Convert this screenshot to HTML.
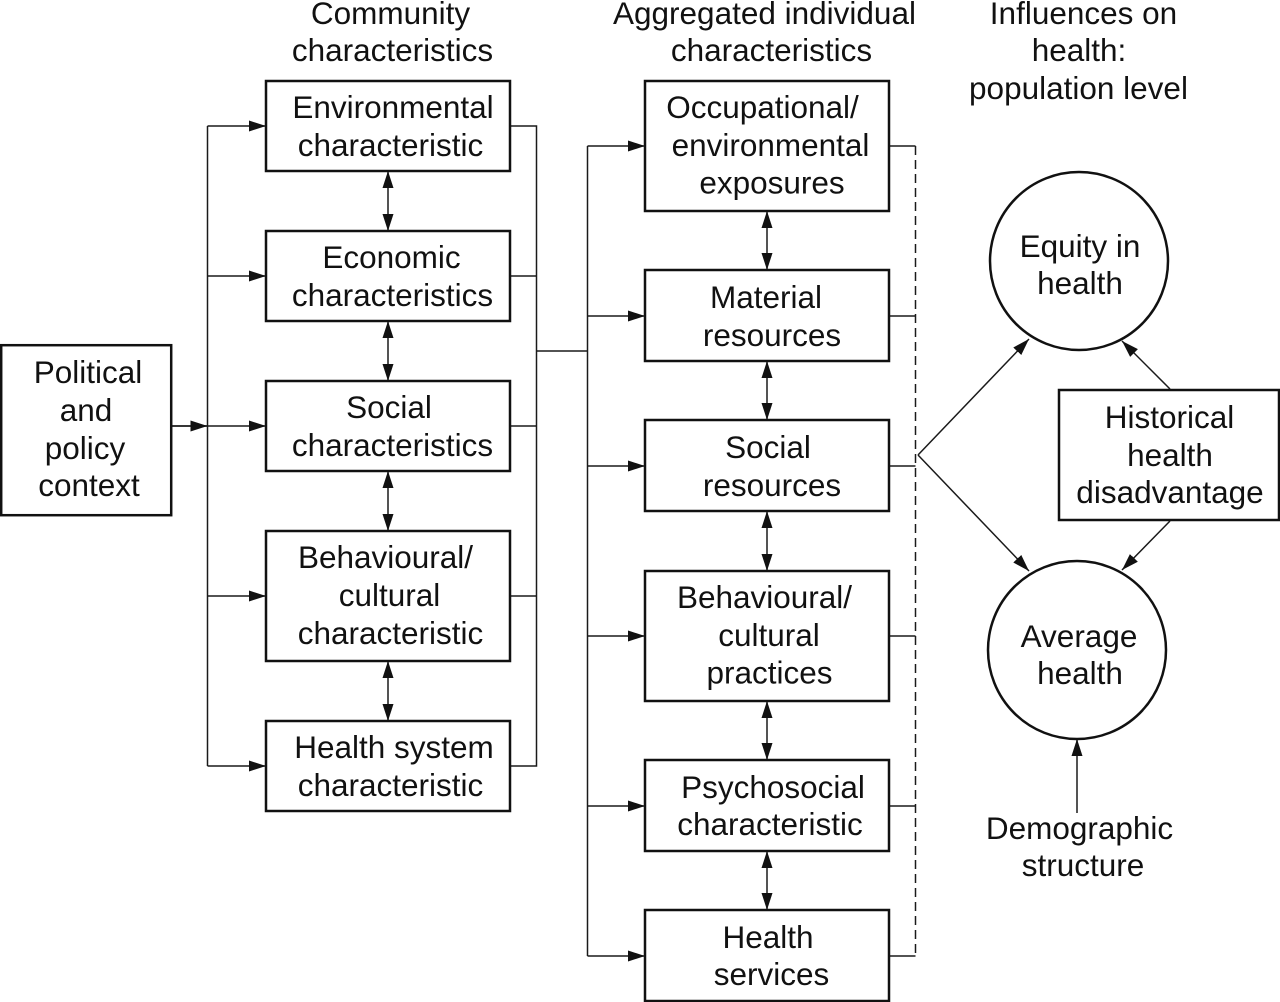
<!DOCTYPE html>
<html><head><meta charset="utf-8"><style>
html,body{margin:0;padding:0;background:#fff}
svg{display:block}
text{font-family:"Liberation Sans",Arial,sans-serif;font-size:31.5px;fill:#111;text-anchor:middle}
.b{fill:#fff;stroke:#111;stroke-width:2.5}
.l{fill:none;stroke:#1a1a1a;stroke-width:1.5}
.h{fill:#111;stroke:none}
</style></head><body>
<svg width="1280" height="1002" viewBox="0 0 1280 1002" xmlns="http://www.w3.org/2000/svg">
<defs>
<marker id="a" markerUnits="userSpaceOnUse" markerWidth="18" markerHeight="12" refX="17" refY="6" orient="auto"><path class="h" d="M0 0.500L17 6L0 11.500Z"/></marker>
<marker id="s" markerUnits="userSpaceOnUse" markerWidth="18" markerHeight="12" refX="17" refY="6" orient="auto-start-reverse"><path class="h" d="M0 0.500L17 6L0 11.500Z"/></marker>
</defs>

<!-- left trunk -->
<path class="l" d="M207.500 126V766M172 426H207.500"/>
<path class="l" marker-end="url(#a)" d="M172 426H207.500"/>
<path class="l" marker-end="url(#a)" d="M207.500 126H266"/>
<path class="l" marker-end="url(#a)" d="M207.500 276H266"/>
<path class="l" marker-end="url(#a)" d="M207.500 426H266"/>
<path class="l" marker-end="url(#a)" d="M207.500 596H266"/>
<path class="l" marker-end="url(#a)" d="M207.500 766H266"/>

<!-- community outputs -->
<path class="l" d="M510 126H536.500V766H510M510 276H536.500M510 426H536.500M510 596H536.500M536.500 351H587.500"/>

<!-- middle trunk -->
<path class="l" d="M587.500 146V956"/>
<path class="l" marker-end="url(#a)" d="M587.500 146H645"/>
<path class="l" marker-end="url(#a)" d="M587.500 316H645"/>
<path class="l" marker-end="url(#a)" d="M587.500 466H645"/>
<path class="l" marker-end="url(#a)" d="M587.500 636H645"/>
<path class="l" marker-end="url(#a)" d="M587.500 806H645"/>
<path class="l" marker-end="url(#a)" d="M587.500 956H645"/>

<!-- dashed collector -->
<path class="l" stroke-dasharray="9 5" d="M915.500 146V956"/>
<path class="l" d="M889 146H915.500M889 316H915.500M889 466H915.500M889 636H915.500M889 806H915.500M889 956H915.500"/>

<!-- vertical double arrows -->
<path class="l" marker-start="url(#s)" marker-end="url(#s)" d="M388 171V231"/>
<path class="l" marker-start="url(#s)" marker-end="url(#s)" d="M388 321V381"/>
<path class="l" marker-start="url(#s)" marker-end="url(#s)" d="M388 471V531"/>
<path class="l" marker-start="url(#s)" marker-end="url(#s)" d="M388 661V721"/>
<path class="l" marker-start="url(#s)" marker-end="url(#s)" d="M767 211V270"/>
<path class="l" marker-start="url(#s)" marker-end="url(#s)" d="M767 361V420"/>
<path class="l" marker-start="url(#s)" marker-end="url(#s)" d="M767 511V571"/>
<path class="l" marker-start="url(#s)" marker-end="url(#s)" d="M767 701V760"/>
<path class="l" marker-start="url(#s)" marker-end="url(#s)" d="M767 851V910"/>

<!-- outcome arrows -->
<path class="l" marker-end="url(#a)" d="M918 455L1029 339"/>
<path class="l" marker-end="url(#a)" d="M918 455L1029 571"/>
<path class="l" marker-end="url(#a)" d="M1170 389L1122 341"/>
<path class="l" marker-end="url(#a)" d="M1170 521L1122 570"/>
<path class="l" marker-end="url(#a)" d="M1077 813V739"/>

<!-- boxes -->
<rect class="b" x="1.200" y="345.200" width="170" height="170"/>
<rect class="b" x="266" y="81" width="244" height="90"/>
<rect class="b" x="266" y="231" width="244" height="90"/>
<rect class="b" x="266" y="381" width="244" height="90"/>
<rect class="b" x="266" y="531" width="244" height="130"/>
<rect class="b" x="266" y="721" width="244" height="90"/>
<rect class="b" x="645" y="81" width="244" height="130"/>
<rect class="b" x="645" y="270" width="244" height="91"/>
<rect class="b" x="645" y="420" width="244" height="91"/>
<rect class="b" x="645" y="571" width="244" height="130"/>
<rect class="b" x="645" y="760" width="244" height="91"/>
<rect class="b" x="645" y="910" width="244" height="91"/>
<rect class="b" x="1059" y="390" width="220" height="130"/>
<circle class="b" cx="1079" cy="261" r="89"/>
<circle class="b" cx="1077" cy="650" r="89"/>

<!-- headers -->
<text x="390.500" y="24">Community</text>
<text x="392.500" y="61">characteristics</text>
<text x="764.500" y="24">Aggregated individual</text>
<text x="771.500" y="61">characteristics</text>
<text x="1083.500" y="24">Influences on</text>
<text x="1079" y="61">health:</text>
<text x="1078.500" y="99">population level</text>

<!-- left -->
<text x="88" y="383">Political</text>
<text x="86" y="421">and</text>
<text x="85" y="459">policy</text>
<text x="89" y="496">context</text>

<!-- community -->
<text x="393" y="118">Environmental</text>
<text x="390.500" y="156">characteristic</text>
<text x="391.500" y="268">Economic</text>
<text x="392.500" y="306">characteristics</text>
<text x="389" y="418">Social</text>
<text x="392.500" y="456">characteristics</text>
<text x="385.500" y="568">Behavioural/</text>
<text x="389.500" y="606">cultural</text>
<text x="390.500" y="644">characteristic</text>
<text x="394" y="758">Health system</text>
<text x="390.500" y="796">characteristic</text>

<!-- individual -->
<text x="762.500" y="118">Occupational/</text>
<text x="770.500" y="156">environmental</text>
<text x="772" y="193.500">exposures</text>
<text x="766" y="308">Material</text>
<text x="772" y="346">resources</text>
<text x="768" y="458">Social</text>
<text x="772" y="496">resources</text>
<text x="764.500" y="608">Behavioural/</text>
<text x="769" y="646">cultural</text>
<text x="769.500" y="683.500">practices</text>
<text x="773" y="798">Psychosocial</text>
<text x="770" y="835">characteristic</text>
<text x="768" y="948">Health</text>
<text x="771.500" y="985">services</text>

<!-- right -->
<text x="1080" y="257">Equity in</text>
<text x="1080" y="294">health</text>
<text x="1169.500" y="428">Historical</text>
<text x="1170" y="466">health</text>
<text x="1170" y="503">disadvantage</text>
<text x="1079" y="647">Average</text>
<text x="1080" y="684">health</text>
<text x="1079.500" y="839">Demographic</text>
<text x="1083" y="876">structure</text>
</svg>
</body></html>
